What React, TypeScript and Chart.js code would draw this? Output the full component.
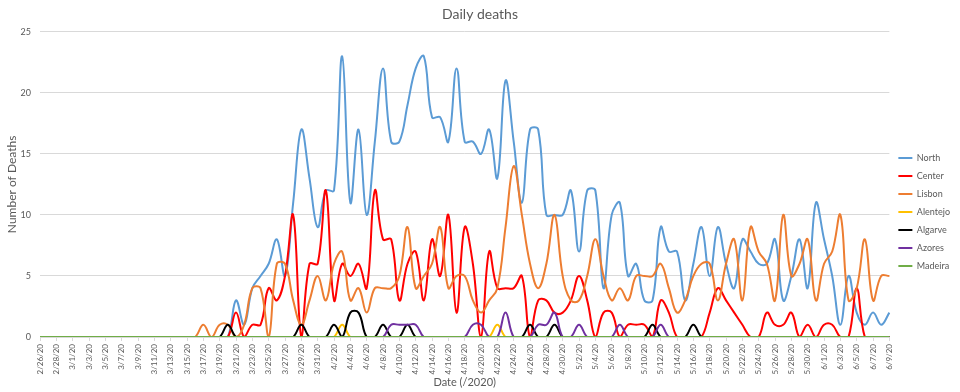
import React, { useEffect, useRef } from 'react';
import { Chart, registerables } from 'chart.js';

Chart.register(...registerables);

const dates = [
  '2/26/20', '2/27/20', '2/28/20', '2/29/20',
  '3/1/20', '3/2/20', '3/3/20', '3/4/20', '3/5/20', '3/6/20', '3/7/20', '3/8/20', '3/9/20', '3/10/20',
  '3/11/20', '3/12/20', '3/13/20', '3/14/20', '3/15/20', '3/16/20', '3/17/20', '3/18/20', '3/19/20', '3/20/20',
  '3/21/20', '3/22/20', '3/23/20', '3/24/20', '3/25/20', '3/26/20', '3/27/20', '3/28/20', '3/29/20', '3/30/20', '3/31/20',
  '4/1/20', '4/2/20', '4/3/20', '4/4/20', '4/5/20', '4/6/20', '4/7/20', '4/8/20', '4/9/20', '4/10/20',
  '4/11/20', '4/12/20', '4/13/20', '4/14/20', '4/15/20', '4/16/20', '4/17/20', '4/18/20', '4/19/20', '4/20/20',
  '4/21/20', '4/22/20', '4/23/20', '4/24/20', '4/25/20', '4/26/20', '4/27/20', '4/28/20', '4/29/20', '4/30/20',
  '5/1/20', '5/2/20', '5/3/20', '5/4/20', '5/5/20', '5/6/20', '5/7/20', '5/8/20', '5/9/20', '5/10/20',
  '5/11/20', '5/12/20', '5/13/20', '5/14/20', '5/15/20', '5/16/20', '5/17/20', '5/18/20', '5/19/20', '5/20/20',
  '5/21/20', '5/22/20', '5/23/20', '5/24/20', '5/25/20', '5/26/20', '5/27/20', '5/28/20', '5/29/20', '5/30/20', '5/31/20',
  '6/1/20', '6/2/20', '6/3/20', '6/4/20', '6/5/20', '6/6/20', '6/7/20', '6/8/20', '6/9/20',
];

const north = [
  0, 0, 0, 0, 0, 0, 0, 0, 0, 0,
  0, 0, 0, 0, 0, 0, 0, 0, 0, 0,
  0, 0, 0, 0, 3, 1, 4, 5, 6, 8,
  5, 11, 17, 13, 9, 12, 12, 23, 11, 17,
  10, 16, 22, 16, 16, 19, 22, 23, 18, 18,
  16, 22, 16, 16, 15, 17, 13, 21, 16, 11,
  17, 17, 10, 10, 10, 12, 7, 12, 12, 4,
  10, 11, 5, 6, 3, 3, 9, 7, 7, 3,
  6, 9, 5, 9, 6, 4, 8, 7, 6, 6,
  8, 3, 5, 8, 4, 11, 8, 5, 1, 5,
  2, 1, 2, 1, 2,
];

const center = [
  0, 0, 0, 0, 0, 0, 0, 0, 0, 0,
  0, 0, 0, 0, 0, 0, 0, 0, 0, 0,
  0, 0, 0, 0, 2, 0, 1, 1, 4, 3,
  5, 10, 0, 6, 6, 12, 3, 6, 5, 6,
  4, 12, 8, 8, 3, 6, 7, 3, 8, 5,
  10, 2, 9, 6, 0, 7, 4, 4, 4, 5,
  0, 3, 3, 2, 2, 3, 5, 3, 0, 2,
  2, 0, 1, 1, 1, 0, 3, 2, 0, 0,
  0, 0, 2, 4, 3, 2, 1, 0, 0, 2,
  1, 1, 2, 0, 1, 0, 1, 1, 0, 0,
  4, 0, 0, 0, 0,
];

const lisbon = [
  0, 0, 0, 0, 0, 0, 0, 0, 0, 0,
  0, 0, 0, 0, 0, 0, 0, 0, 0, 0,
  1, 0, 1, 1, 0, 1, 4, 4, 0, 6,
  6, 3, 1, 3, 5, 3, 6, 7, 3, 4,
  2, 4, 4, 4, 5, 9, 4, 5, 6, 9,
  4, 5, 5, 3, 2, 3, 4, 9, 14, 10,
  6, 4, 6, 10, 5, 3, 3, 5, 8, 5,
  3, 4, 3, 5, 5, 5, 6, 4, 2, 3,
  5, 6, 6, 3, 6, 8, 3, 9, 7, 6,
  3, 10, 5, 6, 8, 3, 6, 7, 10, 3,
  4, 8, 3, 5, 5,
];

const alentejo = [
  0, 0, 0, 0, 0, 0, 0, 0, 0, 0,
  0, 0, 0, 0, 0, 0, 0, 0, 0, 0,
  0, 0, 0, 0, 0, 0, 0, 0, 0, 0,
  0, 0, 0, 0, 0, 0, 0, 1, 0, 0,
  0, 0, 0, 0, 0, 0, 0, 0, 0, 0,
  0, 0, 0, 0, 0, 0, 1, 0, 0, 0,
  0, 0, 0, 0, 0, 0, 0, 0, 0, 0,
  0, 0, 0, 0, 0, 0, 0, 0, 0, 0,
  0, 0, 0, 0, 0, 0, 0, 0, 0, 0,
  0, 0, 0, 0, 0, 0, 0, 0, 0, 0,
  0, 0, 0, 0, 0,
];

const algarve = [
  0, 0, 0, 0, 0, 0, 0, 0, 0, 0,
  0, 0, 0, 0, 0, 0, 0, 0, 0, 0,
  0, 0, 0, 1, 0, 0, 0, 0, 0, 0,
  0, 0, 1, 0, 0, 0, 1, 0, 2, 2,
  0, 0, 1, 0, 0, 1, 0, 0, 0, 0,
  0, 0, 0, 0, 0, 0, 0, 0, 0, 0,
  1, 0, 0, 1, 0, 0, 0, 0, 0, 0,
  0, 0, 0, 0, 0, 1, 0, 0, 0, 0,
  1, 0, 0, 0, 0, 0, 0, 0, 0, 0,
  0, 0, 0, 0, 0, 0, 0, 0, 0, 0,
  0, 0, 0, 0, 0,
];

const azores = [
  0, 0, 0, 0, 0, 0, 0, 0, 0, 0,
  0, 0, 0, 0, 0, 0, 0, 0, 0, 0,
  0, 0, 0, 0, 0, 0, 0, 0, 0, 0,
  0, 0, 0, 0, 0, 0, 0, 0, 0, 0,
  0, 0, 0, 1, 1, 1, 1, 0, 0, 0,
  0, 0, 0, 1, 1, 0, 0, 2, 0, 0,
  0, 1, 1, 2, 0, 0, 1, 0, 0, 0,
  0, 1, 0, 0, 0, 0, 1, 0, 0, 0,
  0, 0, 0, 0, 0, 0, 0, 0, 0, 0,
  0, 0, 0, 0, 0, 0, 0, 0, 0, 0,
  0, 0, 0, 0, 0,
];

const madeira = [
  0, 0, 0, 0, 0, 0, 0, 0, 0, 0,
  0, 0, 0, 0, 0, 0, 0, 0, 0, 0,
  0, 0, 0, 0, 0, 0, 0, 0, 0, 0,
  0, 0, 0, 0, 0, 0, 0, 0, 0, 0,
  0, 0, 0, 0, 0, 0, 0, 0, 0, 0,
  0, 0, 0, 0, 0, 0, 0, 0, 0, 0,
  0, 0, 0, 0, 0, 0, 0, 0, 0, 0,
  0, 0, 0, 0, 0, 0, 0, 0, 0, 0,
  0, 0, 0, 0, 0, 0, 0, 0, 0, 0,
  0, 0, 0, 0, 0, 0, 0, 0, 0, 0,
  0, 0, 0, 0, 0,
];

const seriesNames = ['North', 'Center', 'Lisbon', 'Alentejo', 'Algarve', 'Azores', 'Madeira'];
const seriesData = [north, center, lisbon, alentejo, algarve, azores, madeira];
const seriesColors = ['#5B9BD5', '#FF0000', '#ED7D31', '#FFC000', '#000000', '#7030A0', '#70AD47'];

const yTicks = [0, 5, 10, 15, 20, 25];

const FONT = 'Lato, "Open Sans", sans-serif';
const TEXT = '#595959';
const GRID = '#d9d9d9';

export default function App() {
  const canvasRef = useRef<HTMLCanvasElement | null>(null);

  useEffect(() => {
    document.body.style.margin = '0';
    document.body.style.background = '#ffffff';
    const canvas = canvasRef.current;
    if (!canvas) return;

    const datasets = seriesNames.map((name, i) => ({
      label: name,
      data: seriesData[i],
      borderColor: seriesColors[i],
      backgroundColor: seriesColors[i],
      borderWidth: 2,
      pointRadius: 0,
      pointHoverRadius: 0,
      tension: 0.4,
      fill: false,
      order: seriesNames.length - i,
    }));

    const chart = new Chart(canvas, {
      type: 'line',
      data: { labels: dates, datasets },
      options: {
        animation: false,
        responsive: false,
        maintainAspectRatio: false,
        devicePixelRatio: 1,
        layout: { padding: { left: 0, right: 0, top: 0, bottom: 0 } },
        plugins: {
          tooltip: { enabled: false },
          title: {
            display: true,
            text: 'Daily deaths',
            color: TEXT,
            font: { family: FONT, size: 14, weight: 'normal' },
            padding: { top: 6, bottom: 9 },
          },
          legend: {
            display: true,
            position: 'right',
            align: 'center',
            title: {
              display: true,
              text: ' ',
              font: { family: FONT, size: 10 },
              padding: { top: 10, bottom: 10 },
            },
            labels: {
              usePointStyle: true,
              pointStyle: 'line',
              pointStyleWidth: 14,
              boxHeight: 9,
              padding: 9,
              color: TEXT,
              font: { family: FONT, size: 9 },
              sort: (a: any, b: any) => a.datasetIndex - b.datasetIndex,
            },
          },
        },
        scales: {
          x: {
            type: 'category',
            offset: false,
            grid: {
              display: true,
              drawOnChartArea: false,
              drawTicks: true,
              tickLength: 4,
              color: GRID,
            },
            border: { display: true, color: GRID },
            ticks: {
              autoSkip: false,
              maxRotation: 90,
              minRotation: 90,
              padding: 3,
              color: TEXT,
              font: { family: FONT, size: 8 },
              callback: (_v: any, i: number) => (i % 2 === 0 ? dates[i] : null),
            },
            title: {
              display: true,
              text: 'Date (/2020)',
              color: TEXT,
              font: { family: FONT, size: 11 },
              padding: { top: 0, bottom: 3 },
            },
            afterFit: (s: any) => {
              s.height = 55;
            },
          },
          y: {
            min: 0,
            max: 25,
            grid: { color: GRID, drawTicks: false },
            border: { display: false },
            afterBuildTicks: (s: any) => {
              s.ticks = yTicks.map((v) => ({ value: v }));
            },
            ticks: {
              padding: 9,
              color: TEXT,
              font: { family: FONT, size: 9 },
            },
            title: {
              display: true,
              text: 'Number of Deaths',
              color: TEXT,
              font: { family: FONT, size: 12 },
              padding: { top: 5, bottom: 0 },
            },
            afterFit: (s: any) => {
              s.width = 40;
            },
          },
        },
      },
    });

    return () => chart.destroy();
  }, []);

  return (
    <div style={{ width: 960, height: 392, background: '#fff' }}>
      <canvas ref={canvasRef} width={960} height={392} style={{ display: 'block' }} />
    </div>
  );
}
